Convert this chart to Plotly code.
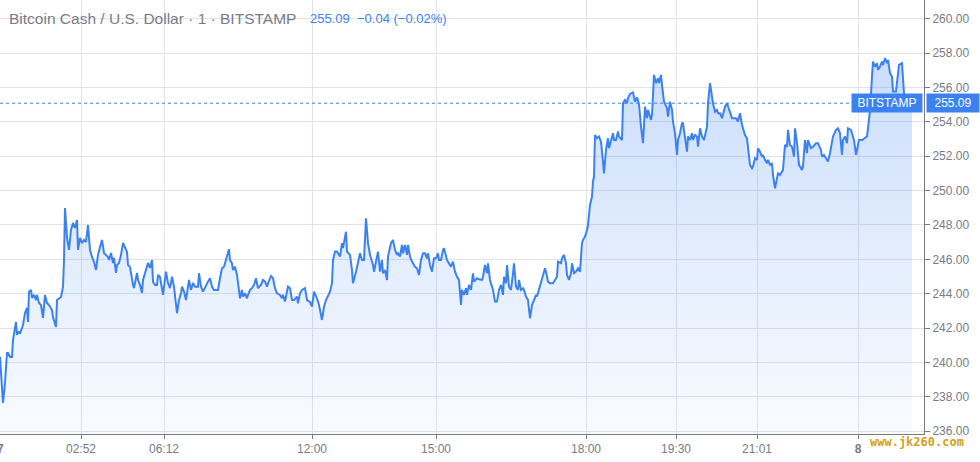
import plotly.graph_objects as go

# BCH/USD, 1-minute bars (bar index along a gapped TradingView time scale)
bars_a = [0, 3, 5, 7, 8, 10, 12, 13, 16, 17, 18, 20, 22, 23, 25, 27, 28, 29, 31, 32, 34, 36, 37, 39, 41,
          43, 45, 47, 49, 52, 53, 56, 57, 59, 61, 63, 64, 65, 67, 69, 71, 73, 75, 77, 78, 80, 82, 84, 86,
          88, 90, 92, 94, 96, 98, 100, 102, 104, 106, 108, 109, 111, 113, 114, 116, 117, 119, 121, 123,
          125, 127, 128, 130, 133, 134, 137, 138, 140, 142, 143, 146, 148, 150, 152, 153, 155, 157, 158, 160]
price_a = [240.33, 237.64, 238.80, 240.55, 240.55, 240.31, 240.31, 241.30, 242.35, 241.60, 241.77, 241.71,
           242.00, 242.18, 242.88, 243.17, 242.35, 244.10, 244.22, 243.75, 243.93, 243.63, 243.93, 243.46,
           243.34, 242.59, 243.93, 243.46, 243.34, 243.05, 242.64, 242.06, 243.63, 243.75, 243.81, 244.39,
           245.96, 248.99, 247.25, 246.55, 247.71, 248.12, 247.83, 248.29, 246.55, 247.25, 246.95, 247.13,
           247.01, 248.00, 246.55, 246.14, 245.85, 245.38, 246.26, 246.72, 247.13, 246.37, 246.26, 246.14,
           245.96, 246.37, 245.79, 246.08, 245.21, 245.67, 245.79, 246.26, 246.95, 246.72, 246.43, 245.67,
           245.56, 244.51, 244.33, 245.21, 244.80, 244.51, 244.04, 244.80, 245.38, 245.79, 245.50, 245.96,
           244.68, 244.51, 244.51, 245.09, 244.97]

bars_b = [163, 166, 168, 170, 172, 174, 177, 179, 181, 182, 184, 186, 187, 189, 191, 193, 195, 198, 199,
          201, 203, 206, 208, 210, 212, 214, 217, 218, 220, 222, 224, 226, 227, 229, 230, 232, 233, 235,
          237, 238, 240, 242, 243, 245, 247, 248, 250, 252, 254, 256, 258, 261, 263, 265, 267, 268, 271,
          273, 275, 277, 280, 282, 283, 285, 287, 288, 290, 292, 294, 297, 298, 300, 302, 305, 307]
price_b = [243.93, 245.28, 244.62, 244.33, 244.99, 244.41, 242.86, 243.63, 244.04, 244.41, 244.12, 243.63,
           244.12, 244.80, 244.22, 244.62, 244.41, 244.41, 245.19, 244.41, 244.12, 244.51, 244.70, 244.90,
           244.41, 244.22, 244.22, 244.22, 244.90, 245.48, 245.57, 245.96, 246.08, 246.59, 245.96, 245.77,
           245.38, 245.57, 245.09, 244.70, 243.73, 244.22, 243.83, 244.02, 243.73, 243.93, 244.22, 244.32,
           244.51, 244.90, 244.32, 244.51, 244.80, 244.70, 244.41, 244.61, 245.03, 244.90, 244.32, 244.02,
           243.93, 243.73, 243.93, 243.54, 244.02, 244.41, 244.32, 243.63, 243.63, 243.83, 243.44, 244.02,
           244.22, 244.32, 243.63]

bars_c = [310, 312, 314, 317, 319, 322, 324, 326, 328, 330, 332, 333, 335, 337, 340, 342, 343, 346, 347,
          350, 352, 353, 356, 358, 360, 362, 364, 366, 368, 370, 373, 374, 376, 378, 380, 382, 383, 385,
          387, 388, 391, 393, 395, 397, 398, 400, 402, 403, 405, 407, 408, 410, 412, 415, 417, 419, 421,
          423, 425, 427, 428, 430, 432, 434, 436, 438, 439, 441, 443, 444, 447, 449, 451, 453, 455, 457,
          459, 461, 462, 464, 466, 467, 469, 471, 473, 474, 477, 479]
price_c = [243.52, 243.24, 244.12, 243.73, 243.34, 242.47, 243.24, 243.63, 243.93, 244.12, 244.61, 245.96,
           246.45, 246.45, 246.16, 246.94, 246.65, 247.61, 246.45, 246.26, 245.38, 244.61, 245.28, 245.87,
           246.35, 245.96, 245.96, 248.39, 246.94, 246.26, 245.67, 245.28, 245.87, 246.45, 245.28, 245.96,
           245.19, 245.38, 244.80, 246.16, 246.94, 247.13, 246.55, 246.26, 246.35, 246.16, 246.84, 246.35,
           246.84, 246.26, 246.84, 246.16, 245.87, 245.57, 245.48, 245.09, 245.96, 246.35, 246.35, 246.06,
           246.35, 245.67, 245.28, 246.06, 246.06, 246.35, 245.96, 245.96, 246.55, 246.65, 245.96, 245.77,
           245.57, 245.87, 245.28, 244.99, 244.80, 243.34, 244.22, 243.93, 244.32, 243.93, 244.51, 244.22,
           245.19, 244.70, 244.90, 244.84]

bars_d = [482, 483, 485, 487, 488, 490, 493, 495, 497, 499, 501, 503, 504, 506, 507, 509, 511, 513, 514,
          516, 518, 519, 521, 523, 524, 526, 528, 530, 532, 534, 536, 537, 539, 541, 543, 545, 546, 548,
          550, 553, 555, 557, 558, 561, 562, 564, 566, 567, 569, 571, 572, 574, 576, 578, 580, 582, 583,
          585, 587, 588, 590, 592, 593, 594, 595, 597, 599, 601, 602, 604, 606, 608, 609, 611, 613, 614,
          616, 618, 619, 622, 623, 625, 627, 628, 630, 633, 635, 637, 639]
price_d = [244.80, 244.99, 245.67, 245.19, 245.77, 244.80, 244.22, 243.54, 243.54, 244.22, 244.51, 243.93,
           244.99, 244.61, 245.67, 244.41, 244.22, 245.19, 245.77, 244.41, 244.22, 244.80, 244.22, 244.32,
           244.22, 243.83, 243.63, 242.57, 243.34, 243.63, 243.93, 243.83, 244.22, 244.61, 244.99, 245.48,
           245.28, 244.70, 244.61, 244.61, 244.80, 244.99, 245.87, 245.77, 246.06, 246.26, 245.77, 245.09,
           244.80, 245.19, 245.77, 245.19, 245.28, 245.48, 245.28, 246.94, 247.13, 247.32, 247.71, 248.00,
           249.17, 249.65, 250.52, 250.82, 253.24, 253.05, 253.15, 252.85, 252.27, 251.01, 252.37, 253.05,
           252.47, 252.95, 253.34, 252.95, 252.95, 253.44, 253.15, 252.95, 255.09, 255.28, 255.09, 255.38,
           255.63, 255.72, 255.18, 255.43, 255.03]

bars_e = [641, 643, 645, 647, 648, 651, 652, 654, 656, 658, 659, 661, 662, 664, 667, 668, 670, 672, 673,
          675, 677, 678, 680, 682, 683, 685, 687, 688, 690, 692, 693, 695, 697, 698, 700, 702, 704, 707,
          708, 710, 712, 713, 715, 717, 718, 720, 722, 723, 725, 727, 728, 730, 732, 734, 736, 738, 740,
          742, 743, 745, 747, 748, 750, 752, 753, 755, 757, 758, 760, 762, 763, 765, 767, 768, 770, 772,
          773, 775, 777, 778, 780, 782, 783, 785, 787, 788, 790, 792, 794, 795, 797]
price_e = [253.73, 252.76, 254.89, 254.22, 254.70, 254.12, 254.41, 256.74, 256.26, 256.55, 256.26, 256.74,
           256.16, 255.18, 254.80, 254.31, 255.18, 254.70, 254.02, 253.34, 252.08, 252.95, 253.34, 253.93,
           253.93, 252.95, 252.27, 253.15, 252.95, 253.34, 252.95, 253.24, 253.15, 252.56, 253.63, 253.15,
           252.95, 253.73, 255.09, 256.26, 255.47, 255.09, 254.60, 254.70, 254.51, 254.51, 254.22, 254.51,
           254.89, 255.09, 254.89, 254.60, 254.22, 254.22, 254.22, 254.02, 254.51, 253.83, 253.63, 253.24,
           253.05, 252.37, 251.50, 251.30, 251.40, 251.89, 251.79, 252.47, 252.27, 251.98, 252.08, 251.79,
           251.60, 251.79, 251.50, 251.60, 250.91, 250.14, 250.62, 251.01, 250.91, 251.11, 251.21, 252.66,
           252.56, 253.54, 252.66, 252.56, 251.98, 253.63, 252.78]

bars_f = [799, 802, 803, 805, 807, 808, 811, 813, 816, 818, 821, 822, 824, 826, 828, 830, 832, 833, 836,
          838, 840, 842, 843, 845, 847, 848, 851, 852, 854, 856, 858, 859, 862, 864, 867, 868, 870, 872,
          873, 875, 877, 878, 880, 882, 883, 885, 887, 888, 890, 892, 893, 896, 898, 899, 902, 903, 904,
          907, 910, 912]
price_f = [251.50, 251.21, 251.40, 252.95, 252.18, 252.95, 252.47, 252.56, 252.76, 252.76, 252.37, 251.98,
           252.08, 251.89, 251.69, 252.18, 252.76, 253.15, 253.54, 253.63, 253.34, 252.08, 252.95, 253.15,
           252.76, 253.63, 253.54, 253.34, 252.95, 252.08, 252.76, 252.95, 252.95, 253.05, 253.15, 253.63,
           254.70, 256.64, 257.51, 257.22, 257.42, 257.03, 257.22, 257.51, 257.32, 257.71, 257.42, 257.61,
           256.84, 256.64, 255.77, 255.77, 256.84, 257.32, 257.42, 256.64, 255.67, 255.38, 255.28, 255.09]

tick_bars = [81, 164, 312, 436, 586, 676, 757, 858]
tick_labels = ['02:52', '06:12', '12:00', '15:00', '18:00', '19:30', '21:01', '<b>8</b>']
price_ticks = [236, 238, 240, 242, 244, 246, 248, 250, 252, 254, 256, 258, 260]

bars = bars_a + bars_b + bars_c + bars_d + bars_e + bars_f
prices = price_a + price_b + price_c + price_d + price_e + price_f
last = prices[-1]

blue = '#3b82f0'
gray = '#787b86'
grid = '#e0e3eb'
font = 'Liberation Sans, Arial, sans-serif'

fig = go.Figure()

fig.add_trace(go.Scatter(
    x=bars,
    y=prices,
    mode='lines',
    line=dict(color=blue, width=2),
    fill='tozeroy',
    fillgradient=dict(
        type='vertical',
        start=235.8,
        stop=258,
        colorscale=[[0, 'rgba(59,130,240,0.03)'], [1, 'rgba(59,130,240,0.27)']]
    ),
    hoverinfo='skip',
    showlegend=False
))

# last price dotted line
fig.add_shape(type='line', xref='paper', x0=0, x1=1, yref='y', y0=last, y1=last,
              line=dict(color=blue, width=1, dash='dot'), layer='above')

fig.add_annotation(xref='paper', yref='paper', x=0, y=1, xanchor='left', yanchor='middle',
                   xshift=7, yshift=-18, showarrow=False,
                   text='Bitcoin Cash / U.S. Dollar · 1 · BITSTAMP',
                   font=dict(family=font, size=15.5, color=gray))
fig.add_annotation(xref='paper', yref='paper', x=0, y=1, xanchor='left', yanchor='middle',
                   xshift=308, yshift=-18, showarrow=False,
                   text='%.2f&nbsp;&nbsp;−0.04 (−0.02%%)' % last,
                   font=dict(family=font, size=13, color=blue))

# date label of the previous day, cut at the left edge
fig.add_annotation(xref='x', yref='paper', x=0, y=0, xanchor='center', yanchor='middle',
                   yshift=-15, showarrow=False, text='<b>7</b>',
                   font=dict(family=font, size=12, color=gray))

# right-hand price labels
fig.add_annotation(xref='paper', yref='y', x=1, y=last, xanchor='left', yanchor='middle',
                   xshift=2, showarrow=False, text='%.2f' % last, bgcolor=blue,
                   width=48, height=14, borderpad=2,
                   font=dict(family=font, size=12, color='white'))
fig.add_annotation(xref='paper', yref='y', x=1, y=last, xanchor='right', yanchor='middle',
                   xshift=-1, showarrow=False, text='BITSTAMP', bgcolor=blue,
                   width=66, height=14, borderpad=2,
                   font=dict(family=font, size=12, color='white'))

# watermark
fig.add_annotation(xref='paper', yref='paper', x=1, y=0, xanchor='center', yanchor='middle',
                   xshift=-7, yshift=-8, showarrow=False, text='<b>www.jk260.com</b>',
                   font=dict(family='DejaVu Sans Mono, monospace', size=12, color='#d4a017'))

fig.update_layout(
    width=980,
    height=462,
    margin=dict(l=0, r=56, t=0, b=28),
    paper_bgcolor='white',
    plot_bgcolor='white',
    font=dict(family=font, size=12, color=gray),
    xaxis=dict(
        range=[0, 924],
        tickvals=tick_bars,
        ticktext=tick_labels,
        showgrid=True,
        gridcolor=grid,
        zeroline=False,
        showline=True,
        linecolor=gray,
        ticks='outside',
        ticklen=4,
        tickcolor=gray,
        tickfont=dict(size=12, color=gray)
    ),
    yaxis=dict(
        side='right',
        range=[235.83, 261.1],
        tickvals=price_ticks,
        tickformat='.2f',
        showgrid=True,
        gridcolor=grid,
        zeroline=False,
        showline=True,
        linecolor=gray,
        ticks='outside',
        ticklen=5,
        tickcolor=gray,
        tickfont=dict(size=12, color=gray)
    )
)

fig.write_html('out.html', config={'displayModeBar': False},
               post_script="document.body.style.margin='0';")
